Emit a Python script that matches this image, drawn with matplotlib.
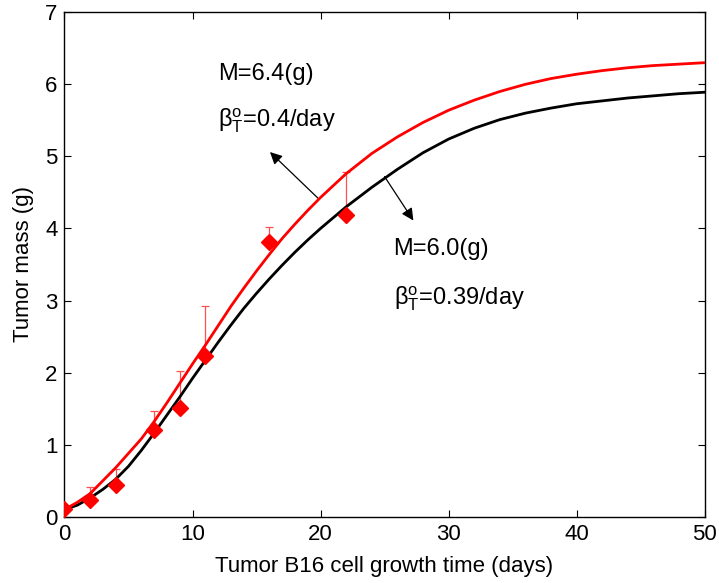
import matplotlib
matplotlib.use("Agg")
import matplotlib.pyplot as plt
import numpy as np

plt.rcParams['font.family'] = ['Liberation Sans', 'DejaVu Sans']
plt.rcParams['mathtext.fontset'] = 'custom'
plt.rcParams['mathtext.rm'] = 'Liberation Sans'
plt.rcParams['mathtext.it'] = 'Liberation Sans'

# Model curve M=6.4 (red)
t_red = [0, 1, 2, 3, 4, 5, 6, 7, 8, 9, 10, 11, 12, 13, 14, 15, 16, 17, 18, 19, 20,
         22, 24, 26, 28, 30, 32, 34, 36, 38, 40, 42, 44, 46, 48, 50]
m_red = [0.10, 0.20, 0.32, 0.50, 0.68, 0.88, 1.08, 1.32, 1.58, 1.85, 2.12, 2.38, 2.65, 2.92,
         3.17, 3.41, 3.64, 3.86, 4.06, 4.25, 4.43, 4.76, 5.04, 5.27, 5.47, 5.64, 5.78, 5.90,
         6.00, 6.08, 6.14, 6.19, 6.23, 6.26, 6.28, 6.30]

# Model curve M=6.0 (black)
t_black = [0, 1, 2, 3, 4, 5, 6, 7, 8, 9, 10, 11, 12, 13, 14, 15, 16, 17, 18, 19, 20,
           22, 24, 26, 28, 30, 32, 34, 36, 38, 40, 42, 44, 46, 48, 50]
m_black = [0.10, 0.16, 0.26, 0.38, 0.52, 0.70, 0.92, 1.16, 1.41, 1.66, 1.92, 2.17, 2.42, 2.66,
           2.89, 3.10, 3.30, 3.49, 3.67, 3.84, 4.00, 4.30, 4.57, 4.82, 5.05, 5.24, 5.39, 5.51,
           5.60, 5.67, 5.73, 5.77, 5.81, 5.84, 5.87, 5.89]

# Experimental data
t_data = [0, 2, 4, 7, 9, 11, 16, 22]
m_data = [0.11, 0.23, 0.44, 1.20, 1.51, 2.23, 3.81, 4.19]
err_up = [0.0, 0.18, 0.22, 0.27, 0.51, 0.70, 0.21, 0.59]

fig = plt.figure(figsize=(7.19, 5.83), dpi=100)
ax = fig.add_axes([0.0897, 0.1137, 0.8903, 0.8653])

ax.plot(t_black, m_black, color='black', lw=2.0, zorder=3)
ax.plot(t_red, m_red, color='#ff0000', lw=2.0, zorder=4)

ax.errorbar(t_data, m_data, yerr=[np.zeros(len(err_up)), err_up], fmt='none',
            ecolor='#ff5050', elinewidth=0.9, capsize=3, capthick=0.9, zorder=2)
ax.plot(t_data, m_data, linestyle='none', marker='D', color='#ff0000',
        markersize=8, zorder=5)

ax.set_xlim(0, 50)
ax.set_ylim(0, 7)
ax.set_xticks([0, 10, 20, 30, 40, 50])
ax.set_yticks([0, 1, 2, 3, 4, 5, 6, 7])
ax.tick_params(direction='in', top=True, right=True, length=5, width=0.8,
               labelsize=16, pad=5)
for s in ax.spines.values():
    s.set_linewidth(1.0)

ax.set_xlabel('Tumor B16 cell growth time (days)', fontsize=16, labelpad=8)
ax.set_ylabel('Tumor mass (g)', fontsize=16, labelpad=8)

ax.text(12.0, 6.15, 'M=6.4(g)', fontsize=17, va='center', ha='left')
ax.text(12.0, 5.5, r'β$_{\mathrm{T}}^{\mathrm{o}}$=0.4/day', fontsize=17, va='center', ha='left')
ax.text(25.7, 3.72, 'M=6.0(g)', fontsize=17, va='center', ha='left')
ax.text(25.7, 3.03, r'β$_{\mathrm{T}}^{\mathrm{o}}$=0.39/day', fontsize=17, va='center', ha='left')

ax.annotate('', xy=(16.05, 5.06), xytext=(19.8, 4.42),
            arrowprops=dict(arrowstyle='-|>', color='black', lw=0.9,
                            mutation_scale=18, shrinkA=0, shrinkB=0))
ax.annotate('', xy=(27.25, 4.11), xytext=(25.0, 4.72),
            arrowprops=dict(arrowstyle='-|>', color='black', lw=0.9,
                            mutation_scale=18, shrinkA=0, shrinkB=0))

fig.savefig('out.png', dpi=100)
